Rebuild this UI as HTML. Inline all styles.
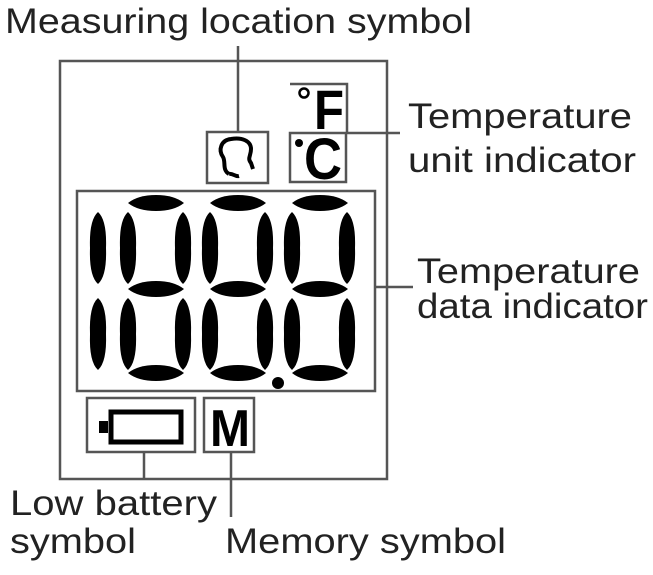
<!DOCTYPE html>
<html><head><meta charset="utf-8"><style>
html,body{margin:0;padding:0;background:#fff;}
svg{display:block;}
text{font-family:"Liberation Sans",sans-serif;fill:#222;}
</style></head><body>
<svg width="653" height="575" viewBox="0 0 653 575" xmlns="http://www.w3.org/2000/svg">
<defs>
<path id="v" d="M8,0 Q17,8 16,36 Q17,64 8,72 Q-1,64 0,36 Q-1,8 8,0 Z" fill="#000"/>
<path id="h" d="M0,8 Q10,0 28,0 Q46,0 56,8 Q46,16 28,16 Q10,16 0,8 Z" fill="#000"/>
<g id="d">
<use href="#v" x="0" y="212"/><use href="#v" x="0" y="298"/>
<use href="#v" x="55" y="212"/><use href="#v" x="55" y="298"/>
<use href="#h" x="8" y="195"/><use href="#h" x="8" y="281"/><use href="#h" x="8" y="365"/>
</g>
</defs>
<g fill="none" stroke="#555" stroke-width="2.5">
<rect x="60" y="61" width="327" height="418"/>
<rect x="77" y="191" width="298" height="200"/>
<rect x="207" y="132" width="61" height="51"/>
<polyline points="290,84 347,84 347,133"/>
<rect x="290" y="133" width="56" height="49"/>
<rect x="87" y="398" width="108" height="54"/>
<rect x="204" y="398" width="50" height="54"/>
<line x1="238" y1="46" x2="238" y2="132"/>
<line x1="347" y1="133" x2="400" y2="133"/>
<line x1="375" y1="287" x2="413" y2="287"/>
<line x1="144" y1="452" x2="144" y2="479"/>
<line x1="231" y1="452" x2="231" y2="517"/>
</g>
<use href="#v" x="90" y="212"/><use href="#v" x="90" y="298"/>
<use href="#d" x="120" y="0"/>
<use href="#d" x="202" y="0"/>
<use href="#d" x="284" y="0"/>
<circle cx="278" cy="383" r="6" fill="#000"/>
<!-- head icon -->
<path d="M229,174 C222,170 226,162 223,157 C218,150 221,140 231,139 C242,137 251,141 251,149 C251,156 247,158 251,163 L253,169 M229,174 C233,173 235,177 239,176" fill="none" stroke="#000" stroke-width="4"/>
<!-- battery -->
<rect x="111" y="412" width="70" height="30" fill="none" stroke="#000" stroke-width="5"/>
<rect x="99" y="421" width="9" height="12" fill="#000"/>
<text x="210" y="446" font-size="52" font-weight="bold" style="fill:#000" textLength="40" lengthAdjust="spacingAndGlyphs">M</text>
<circle cx="304" cy="93" r="4.5" fill="none" stroke="#000" stroke-width="2.5"/>
<text x="314" y="129" font-size="56" font-weight="bold" style="fill:#000" textLength="30" lengthAdjust="spacingAndGlyphs">F</text>
<circle cx="299" cy="143" r="4" fill="#000"/>
<text x="304" y="179" font-size="58" font-weight="bold" style="fill:#000" textLength="38" lengthAdjust="spacingAndGlyphs">C</text>
<g font-size="35">
<text x="5" y="33" textLength="467" lengthAdjust="spacingAndGlyphs">Measuring location symbol</text>
<text x="408" y="128" textLength="224" lengthAdjust="spacingAndGlyphs">Temperature</text>
<text x="408" y="172" textLength="228" lengthAdjust="spacingAndGlyphs">unit indicator</text>
<text x="417" y="283" textLength="223" lengthAdjust="spacingAndGlyphs">Temperature</text>
<text x="417" y="318" textLength="231" lengthAdjust="spacingAndGlyphs">data indicator</text>
<text x="10" y="515" textLength="207" lengthAdjust="spacingAndGlyphs">Low battery</text>
<text x="10" y="553" textLength="126" lengthAdjust="spacingAndGlyphs">symbol</text>
<text x="225" y="553" textLength="281" lengthAdjust="spacingAndGlyphs">Memory symbol</text>
</g>
</svg>
</body></html>
